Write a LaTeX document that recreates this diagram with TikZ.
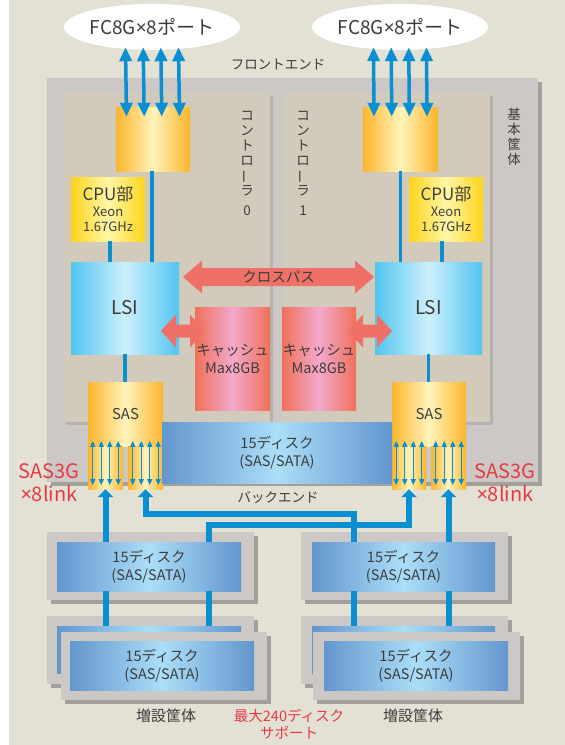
\documentclass[tikz,border=0pt]{standalone}
\usepackage{fontspec}
\usepackage{graphicx}
\setmainfont{Noto Sans CJK JP}
\newfontfamily\latin{Noto Sans}
\usepackage{tikz}
\usetikzlibrary{arrows.meta,positioning,calc,shapes.geometric}
\definecolor{paper}{HTML}{E3E0D4}
\definecolor{chassis}{HTML}{CCC8C5}
\definecolor{dropgray}{HTML}{A39F9B}
\definecolor{panel}{HTML}{D2CBBB}
\definecolor{gold}{HTML}{FBB52B}
\definecolor{goldlight}{HTML}{FFF4BC}
\definecolor{cpuyellow}{HTML}{FDD41A}
\definecolor{cpulight}{HTML}{FFF6A8}
\definecolor{lsiblue}{HTML}{52C5F0}
\definecolor{lsilight}{HTML}{CDEFFC}
\definecolor{cachered}{HTML}{F0705A}
\definecolor{cachepink}{HTML}{F2A9CB}
\definecolor{diskblue}{HTML}{6396CE}
\definecolor{disklight}{HTML}{ABDEF7}
\definecolor{busblue}{HTML}{0A8FD2}
\definecolor{crossred}{HTML}{F07068}
\definecolor{alertred}{HTML}{E63B45}
\definecolor{ink}{HTML}{3C3C3C}

\begin{document}
\begin{tikzpicture}[x=1pt,y=-1pt,
  every node/.style={text=ink,inner sep=0pt,align=center},
  chip/.style={left color=gold,right color=gold,middle color=goldlight},
  cpubox/.style={left color=cpuyellow,right color=cpuyellow,middle color=cpulight,font=\fontsize{13}{15.5}\selectfont},
  lsibox/.style={left color=lsiblue,right color=lsiblue,middle color=lsilight,font=\fontsize{19}{21}\selectfont},
  cachebox/.style={left color=cachered,right color=cachered,middle color=cachepink,font=\fontsize{14.5}{18}\selectfont},
  diskbox/.style={left color=diskblue,right color=diskblue,middle color=disklight,font=\fontsize{14.5}{18}\selectfont},
  fcport/.style={ellipse,fill=white,minimum width=165pt,minimum height=46pt,font=\fontsize{19}{21}\selectfont},
  fclink/.style={{Triangle[width=12pt,length=14pt]}-{Triangle[width=12pt,length=14pt]},busblue,line width=3.5pt},
  portlink/.style={{Triangle[width=5pt,length=6pt]}-{Triangle[width=5pt,length=6pt]},busblue,line width=1.4pt},
  bus/.style={busblue,line width=3.5pt},
  sasline/.style={busblue,line width=6pt},
  saslink/.style={sasline,-{Triangle[width=15pt,length=8pt]}},
  side/.style={font=\fontsize{13.5}{15}\selectfont},
  alert/.style={text=alertred,font=\fontsize{20}{23}\selectfont}]
  \useasboundingbox (0,0) rectangle (565,745);
  \fill[white] (0,0) rectangle (565,745);
  \fill[paper] (9,0) rectangle (565,745);
  % base chassis and the two controllers
  \fill[dropgray] (51,82) rectangle (542,486);
  \fill[chassis] (47,78) rectangle (538,482);
  \fill[dropgray!80] (66,96) rectangle (273,425);
  \fill[panel] (63,93) rectangle (270,422);
  \fill[dropgray!80] (286,96) rectangle (493,425);
  \fill[panel] (283,93) rectangle (490,422);
  \node[side] (ctrl0) at (247,163) {コ\\ン\\ト\\ロ\\\rotatebox[origin=c]{90}{ー}\\ラ\\[5pt]0};
  \node[side] (ctrl1) at (303,163) {コ\\ン\\ト\\ロ\\\rotatebox[origin=c]{90}{ー}\\ラ\\[5pt]1};
  \node[side] (chassislbl) at (514,137) {基\\本\\筐\\体};
  \node[side] (frontend) at (278,65) {フロントエンド};
  \node[side] (backend) at (278,497) {バックエンド};
  % front end
  \node[fcport] (fcportL) at (152,27) {FC8G{\latin ×}8ポート};
  \node[fcport] (fcportR) at (400,27) {FC8G{\latin ×}8ポート};
  \node[chip,minimum width=74pt,minimum height=64pt] (frontL) at (153,139) {};
  \node[chip,minimum width=75pt,minimum height=64pt] (frontR) at (400.5,139) {};
  \foreach \dx in {-26.5,-8.8,8.8,26.5}{
    \draw[fclink] ([xshift=\dx pt,yshift=3pt]fcportL.south) -- ([xshift=\dx pt,yshift=-10pt]frontL.north);
    \draw[fclink] ([xshift=\dx pt,yshift=3pt]fcportR.south) -- ([xshift=\dx pt,yshift=-10pt]frontR.north);
  }
  \node[cpubox,minimum width=74pt,minimum height=64pt] (cpuL) at (108,209) {{\fontsize{17}{19}\selectfont CPU部}\\Xeon\\1.67GHz};
  \node[cpubox,minimum width=74pt,minimum height=64pt] (cpuR) at (446,209) {{\fontsize{17}{19}\selectfont CPU部}\\Xeon\\1.67GHz};
  \node[lsibox,minimum width=108pt,minimum height=92pt] (lsiL) at (125,308) {LSI};
  \node[lsibox,minimum width=107pt,minimum height=92pt] (lsiR) at (428.5,308) {LSI};
  \draw[bus] ([xshift=-1pt]frontL.south) -- ([xshift=-1pt]frontL.south |- lsiL.north);
  \draw[bus] ([xshift=2pt]cpuL.south) -- ([xshift=2pt]cpuL.south |- lsiL.north);
  \draw[bus] (frontR.south) -- (frontR.south |- lsiR.north);
  \draw[bus] ([xshift=-4pt]cpuR.south) -- ([xshift=-4pt]cpuR.south |- lsiR.north);
  \node[cachebox,minimum width=75pt,minimum height=103pt] (cacheL) at (232.5,358.5) {キャッシュ\\Max8GB};
  \node[cachebox,minimum width=74pt,minimum height=103pt] (cacheR) at (319,358.5) {キャッシュ\\Max8GB};
  % cross path and cache links
  \fill[crossred] (183,277) -- (202,260.5) -- (202,268) -- (355,268) -- (355,260.5) -- (374,277)
    -- (355,293.5) -- (355,286) -- (202,286) -- (202,293.5) -- cycle;
  \node[font=\fontsize{14.5}{16}\selectfont] (crosspath) at (278.5,277) {クロスパス};
  \fill[crossred] (161,331) -- (176,314.5) -- (176,324.5) -- (190,324.5) -- (190,314.5) -- (205,331)
    -- (190,347.5) -- (190,337.5) -- (176,337.5) -- (176,347.5) -- cycle;
  \fill[crossred] (348,331) -- (363,314.5) -- (363,324.5) -- (377,324.5) -- (377,314.5) -- (392,331)
    -- (377,347.5) -- (377,337.5) -- (363,337.5) -- (363,347.5) -- cycle;
  % back end
  \node[chip,minimum width=75pt,minimum height=64pt,font=\fontsize{15}{16}\selectfont] (sasL) at (125.5,414) {\raisebox{-9pt}{SAS}};
  \node[chip,minimum width=74pt,minimum height=64pt,font=\fontsize{15}{16}\selectfont] (sasR) at (429,414) {\raisebox{-9pt}{SAS}};
  \draw[bus] (lsiL.south) -- (lsiL.south |- sasL.north);
  \draw[bus] (lsiR.south) -- (lsiR.south |- sasR.north);
  \node[chip,minimum width=35pt,minimum height=43pt] (portLa) at (105.5,467.5) {};
  \node[chip,minimum width=35pt,minimum height=43pt] (portLb) at (145.5,467.5) {};
  \node[chip,minimum width=34pt,minimum height=43pt] (portRa) at (409,467.5) {};
  \node[chip,minimum width=35pt,minimum height=43pt] (portRb) at (448.5,467.5) {};
  \foreach \p in {portLa,portLb,portRa,portRb}
    \foreach \dx in {-12.75,-4.25,4.25,12.75}
      \draw[portlink] ([xshift=\dx pt,yshift=4pt]\p.south) -- ([xshift=\dx pt,yshift=5pt]\p.north);
  \node[diskbox,minimum width=230pt,minimum height=61pt] (dskbase) at (277,452.5) {\raisebox{-3pt}{15ディスク}\\\raisebox{-3pt}{(SAS/SATA)}};
  \node[alert] (linkL) at (49,483) {SAS3G\\{\latin ×}8link};
  \node[alert] (linkR) at (505,483) {SAS3G\\{\latin ×}8link};
  % expansion enclosures
  \fill[dropgray] (51,536) rectangle (258,604);
  \fill[chassis] (47,532) rectangle (254,600);
  \fill[dropgray] (305,536) rectangle (512,604);
  \fill[chassis] (301,532) rectangle (508,600);
  \node[diskbox,minimum width=184pt,minimum height=49pt] (dskL1) at (149,566.5) {15ディスク\\(SAS/SATA)};
  \node[diskbox,minimum width=183pt,minimum height=49pt] (dskR1) at (403.5,566.5) {15ディスク\\(SAS/SATA)};
  \fill[dropgray] (51,620) rectangle (258,688);
  \fill[chassis] (47,616) rectangle (254,684);
  \fill[dropgray] (305,620) rectangle (512,688);
  \fill[chassis] (301,616) rectangle (508,684);
  \node[diskbox,minimum width=184pt,minimum height=47pt] (dskL2b) at (149,649.5) {};
  \node[diskbox,minimum width=183pt,minimum height=47pt] (dskR2b) at (403.5,649.5) {};
  \fill[dropgray] (65,636) rectangle (271,704);
  \fill[chassis] (61,632) rectangle (267,700);
  \fill[dropgray] (317,636) rectangle (524,704);
  \fill[chassis] (313,632) rectangle (520,700);
  \node[diskbox,minimum width=184pt,minimum height=49pt] (dskL2) at (162,665.5) {15ディスク\\(SAS/SATA)};
  \node[diskbox,minimum width=184pt,minimum height=49pt] (dskR2) at (416,665.5) {15ディスク\\(SAS/SATA)};
  % SAS links
  \coordinate (j2) at (354,514);
  \coordinate (j3) at (209,525);
  \draw[saslink] (dskL1.north -| portLa.south) -- (portLa.south);
  \draw[saslink] (dskR1.north -| j2) -- (j2) -| (portLb.south);
  \draw[saslink] (dskL1.north -| j3) -- (j3) -| (portRa.south);
  \draw[saslink] (dskR1.north -| portRb.south) -- (portRb.south);
  \draw[sasline] (dskL1.south -| portLa.south) -- (dskL2b.north -| portLa.south);
  \draw[sasline] (dskL1.south -| j3) -- (dskL2b.north -| j3);
  \draw[sasline] (dskR1.south -| j2) -- (dskR2b.north -| j2);
  \draw[sasline] (dskR1.south -| portRb.south) -- (dskR2b.north -| portRb.south);
  \node[font=\fontsize{15}{16}\selectfont] (expL) at (166,716) {増設筐体};
  \node[font=\fontsize{15}{16}\selectfont] (expR) at (413,716) {増設筐体};
  \node[font=\fontsize{14.5}{17}\selectfont,text=alertred] (maxdisk) at (289,724) {最大240ディスク\\サポート};
\end{tikzpicture}
\end{document}
